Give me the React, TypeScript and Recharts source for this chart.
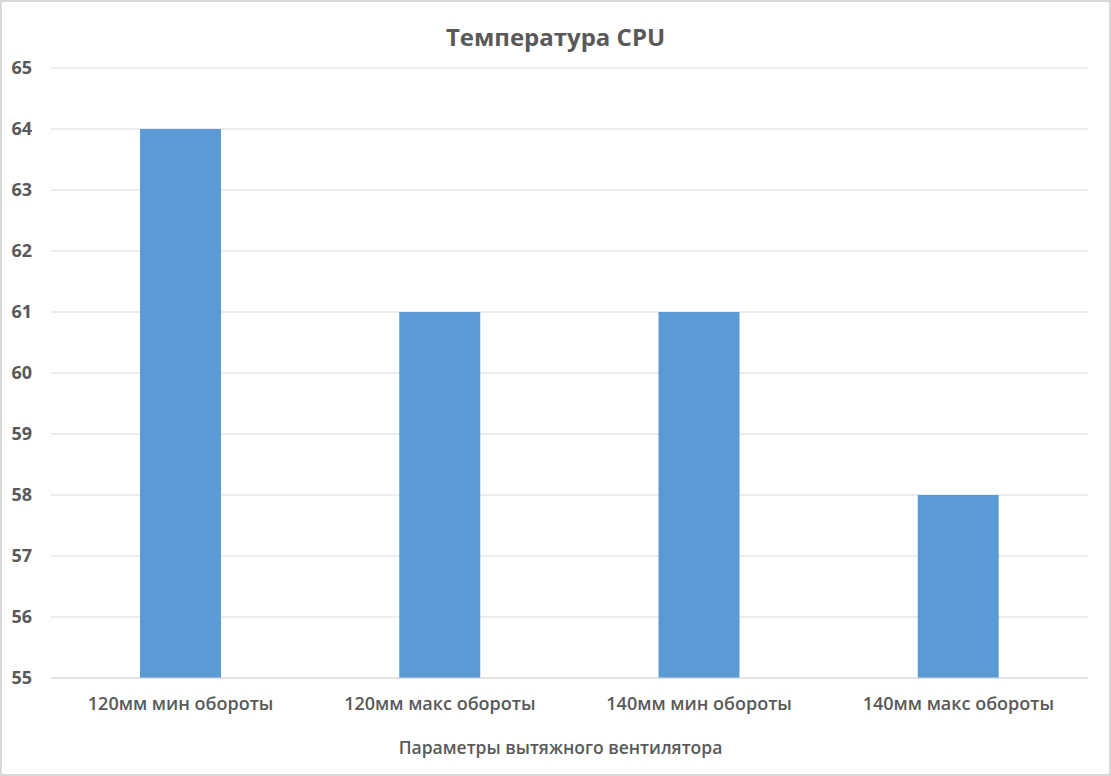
import { BarChart, Bar, XAxis, YAxis, CartesianGrid } from "recharts";

const categories = [
  "120мм мин обороты",
  "120мм макс обороты",
  "140мм мин обороты",
  "140мм макс обороты",
];
const temperatures = [64, 61, 61, 58];
const yTicks = [55, 56, 57, 58, 59, 60, 61, 62, 63, 64, 65];

const chartTitle = "Температура CPU";
const xTitle = "Параметры вытяжного вентилятора";

const data = categories.map((name, i) => ({ name, temp: temperatures[i] }));

const FONT = "'Open Sans', 'Liberation Sans', sans-serif";
const TEXT = "#595959";

export default function App() {
  return (
    <div
      style={{
        position: "absolute",
        left: 0,
        top: 0,
        width: 1111,
        height: 776,
        background: "#fff",
        border: "2px solid #d9d9d9",
        boxSizing: "border-box",
        fontFamily: FONT,
      }}
    >
      <div
        style={{
          position: "absolute",
          left: 0,
          right: 0,
          top: 19,
          textAlign: "center",
          fontSize: 24,
          fontWeight: 700,
          color: TEXT,
          lineHeight: "32px",
        }}
      >
        {chartTitle}
      </div>
      <div style={{ position: "absolute", left: -2, top: -2 }}>
        <BarChart
          width={1111}
          height={776}
          data={data}
          margin={{ top: 68, right: 23, left: 0, bottom: 0 }}
        >
          <CartesianGrid stroke="#d9d9d9" vertical={false} />
          <XAxis
            dataKey="name"
            height={98}
            tickLine={false}
            axisLine={{ stroke: "#d9d9d9" }}
            tickMargin={13}
            tick={{ fill: TEXT, fontSize: 18, fontWeight: 600, fontFamily: FONT }}
          />
          <YAxis
            width={51}
            domain={[55, 65]}
            ticks={yTicks}
            tickLine={false}
            axisLine={false}
            tickMargin={13}
            tick={{ fill: TEXT, fontSize: 18, fontWeight: 700, fontFamily: FONT }}
          />
          <Bar dataKey="temp" fill="#5b9bd5" barSize={81} isAnimationActive={false} />
        </BarChart>
      </div>
      <div
        style={{
          position: "absolute",
          left: 0,
          right: 0,
          top: 733,
          paddingLeft: 10,
          textAlign: "center",
          fontSize: 17.5,
          fontWeight: 600,
          color: TEXT,
          lineHeight: "24px",
        }}
      >
        {xTitle}
      </div>
    </div>
  );
}
